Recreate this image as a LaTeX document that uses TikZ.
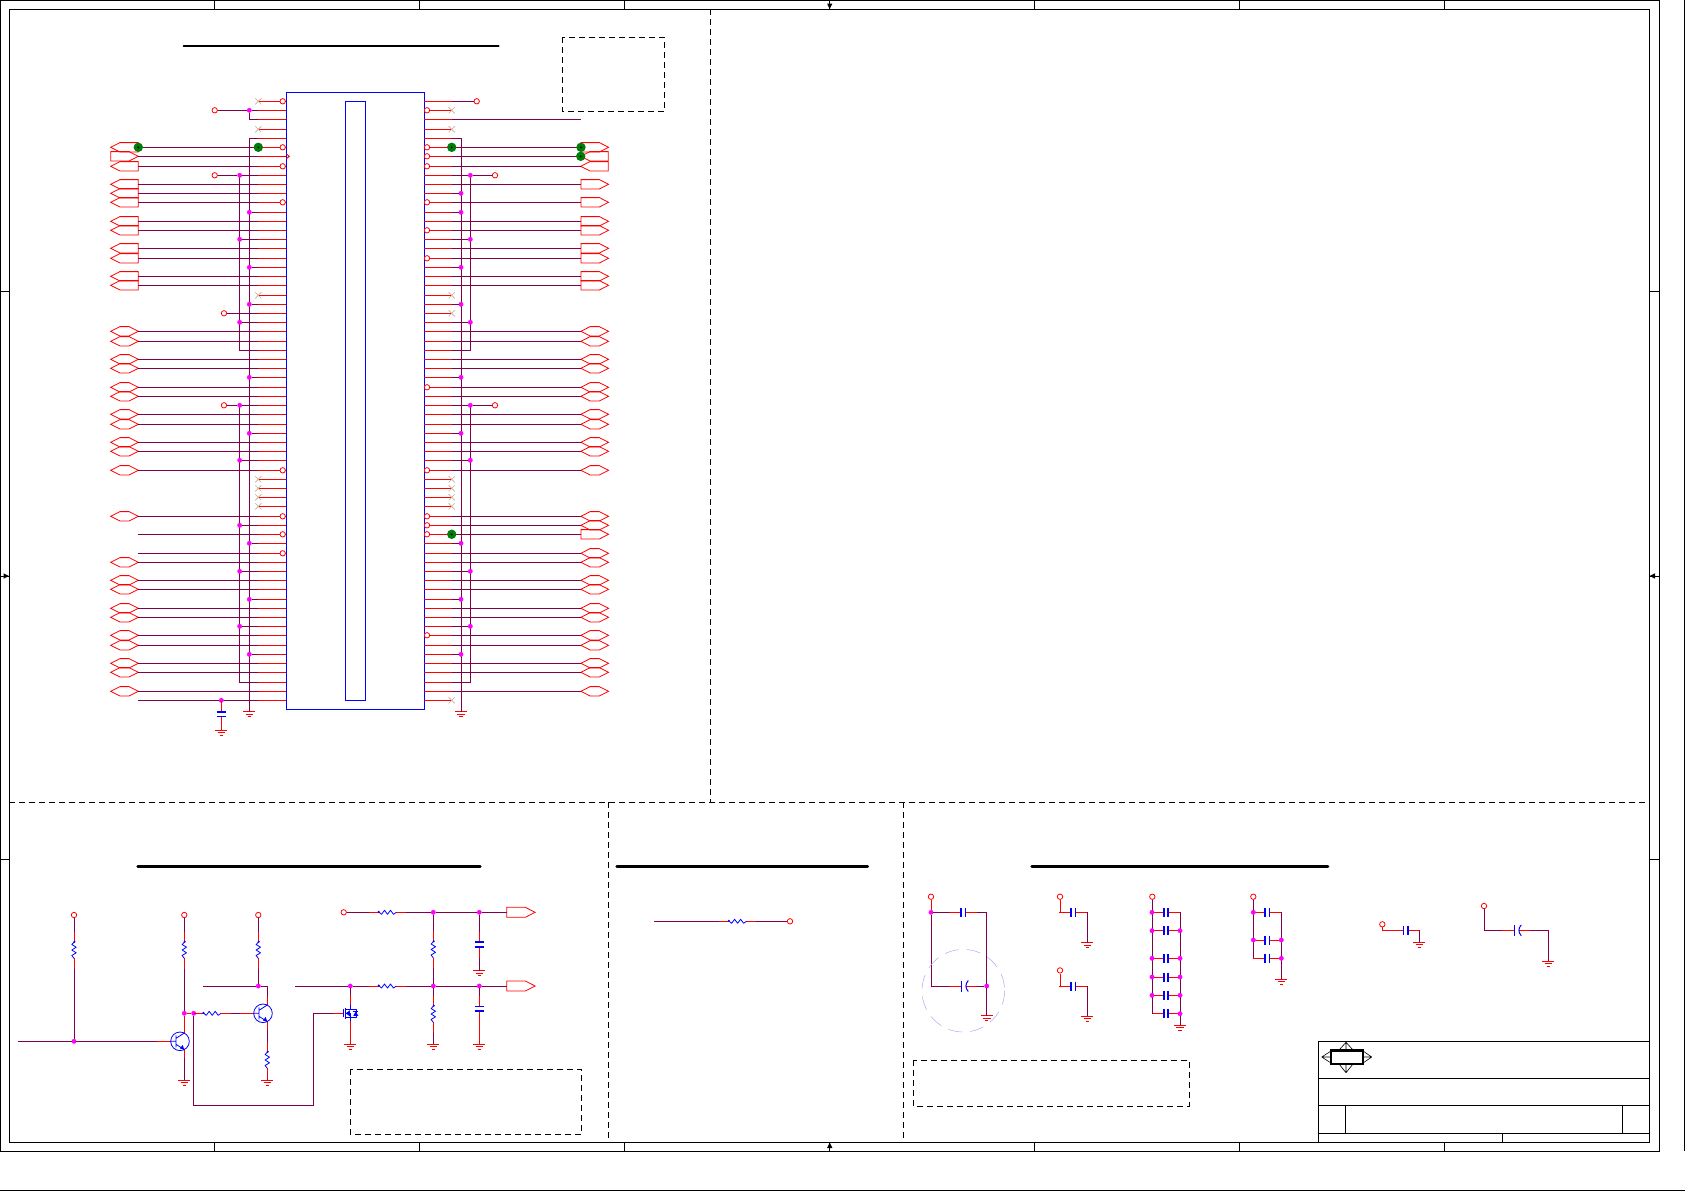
\documentclass[tikz,border=0pt]{standalone}
\usepackage{amsmath}
\usetikzlibrary{shapes,arrows}
\definecolor{netcol}{RGB}{128,0,75}
\definecolor{jncol}{RGB}{255,0,255}
\definecolor{tpgreen}{RGB}{0,125,10}
\definecolor{nccol}{RGB}{200,170,145}
\tikzset{
  frm/.style={black,line width=0.9pt},
  dashbox/.style={black,line width=0.8pt,dash pattern=on 6pt off 4pt},
  titlebar/.style={black,line width=2.6pt,line cap=round},
  wire/.style={netcol,line width=0.9pt},
  pinred/.style={red,line width=0.9pt},
  partblue/.style={blue,line width=0.8pt,line join=round},
  term/.style={circle,draw=red,fill=white,line width=0.8pt,inner sep=0pt,minimum size=5.4pt},
  jn/.style={circle,fill=jncol,draw=jncol,line width=0.3pt,inner sep=0pt,minimum size=4.4pt},
  tp/.style={circle,fill=tpgreen,inner sep=0pt,minimum size=9.4pt,
    path picture={\fill[black] (path picture bounding box.center) circle (1pt);}},
  ncx/.style={cross out,draw=nccol,line width=0.6pt,inner sep=0pt,minimum size=5.5pt},
  conn/.style={signal,draw=red,line width=0.8pt,inner sep=0pt,outer sep=0pt,
    minimum width=27.6pt,minimum height=9.4pt,signal pointer angle=54},
  connin/.style={conn,signal to=west,anchor=east},
  connout/.style={conn,signal to=east,anchor=west},
  connhex/.style={conn,signal to=east and west},
  gnd/.pic={
    \coordinate (-t) at (0,0);
    \draw[pinred] (-6,0) -- (6,0) (-3.8,2.5) -- (3.8,2.5) (-1.6,5) -- (1.6,5);
  },
  resv/.pic={
    \coordinate (-a) at (0,-18.5);
    \coordinate (-b) at (0,18.5);
    \draw[pinred] (-a) -- (0,-8.3) (0,8.3) -- (-b);
    \fill[blue] (0.5,-8.3) circle (1.1pt);
    \draw[partblue] (0.5,-8.3) -- (-2.2,-5.5) -- (2.2,-2.8) -- (-2.2,0) -- (2.2,2.8) -- (-2.2,5.5) -- (0,8.3);
  },
  resh/.pic={
    \coordinate (-a) at (-18.5,0);
    \coordinate (-b) at (18.5,0);
    \draw[pinred] (-a) -- (-8.8,0) (8.8,0) -- (-b);
    \fill[blue] (-8.8,-0.5) circle (1.1pt);
    \draw[partblue] (-8.8,-0.5) -- (-6,2) -- (-3,-2) -- (0,2) -- (3,-2) -- (6,2) -- (8.8,0);
  },
  capv/.pic={
    \coordinate (-a) at (0,-13);
    \coordinate (-b) at (0,13);
    \draw[pinred] (-a) -- (0,-2.2) (0,2.2) -- (-b);
    \draw[blue,line width=1.7pt] (-4.5,-2.2) -- (4.5,-2.2) (-4.5,2.2) -- (4.5,2.2);
  },
  caph/.pic={
    \coordinate (-a) at (-14,0);
    \coordinate (-b) at (14,0);
    \draw[pinred] (-a) -- (-2.2,0) (2.2,0) -- (-b);
    \draw[blue,line width=1.7pt] (-2.2,-4.5) -- (-2.2,4.5) (2.2,-4.5) -- (2.2,4.5);
  },
  polcap/.pic={
    \coordinate (-a) at (-14,0);
    \coordinate (-b) at (14,0);
    \draw[pinred] (-a) -- (-2.2,0) (3,0) -- (-b);
    \draw[partblue,line width=1pt] (-2.2,-5.5) -- (-2.2,5.5);
    \draw[partblue,line width=1pt] (5,-5.5) .. controls (1.8,-2) and (1.8,2) .. (5,5.5);
  },
  npn/.pic={
    \coordinate (-b) at (-23.3,0);
    \coordinate (-c) at (4.3,-16.6);
    \coordinate (-e) at (4.3,16.6);
    \draw[pinred] (-b) -- (-9.3,0) (-c) -- (4.3,-8.3) (4.3,8.3) -- (-e);
    \draw[partblue] (0,0) circle (9.3);
    \draw[partblue] (-4,-6) -- (-4,6) (-9.3,0) -- (-4,0) (-4,-3) -- (4.3,-8.3) (-4,3) -- (4.3,8.3);
    \fill[blue] (4.3,8.3) -- (0,7.2) -- (2.6,3.6) -- cycle;
  },
  nfet/.pic={
    \coordinate (-g) at (-17,0);
    \coordinate (-d) at (0,-18);
    \coordinate (-s) at (0,18);
    \draw[pinred] (-g) -- (-7.5,0) (-d) -- (0,-8) (0,8) -- (-s);
    \draw[partblue,line width=0.6pt] (-7,-4) -- (-7,4) (-5,-5.5) -- (-5,5.5);
    \draw[partblue,line width=0.6pt] (0,-8) -- (0,-4) -- (-5,-4) (0,8) -- (0,4) -- (-5,4) (-5,0) -- (0,0) -- (0,4);
    \draw[partblue,line width=0.6pt] (0,-4) -- (5.5,-4) -- (5.5,4) -- (0,4);
    \fill[blue] (-4.5,0) -- (-0.5,-3) -- (-0.5,3) -- cycle;
    \fill[blue] (3,2.5) -- (8,2.5) -- (5.5,-2) -- cycle;
    \draw[partblue,line width=0.6pt] (3,-2.2) -- (8,-2.2);
  }
}
\begin{document}
\begin{tikzpicture}[x=1pt,y=-1pt]
\useasboundingbox (0,0) rectangle (1685,1191);

% sheet frame
\draw[frm] (0.5,0.5) rectangle (1659.3,1151.3);
\draw[frm] (9.3,9.3) rectangle (1649.3,1142.3);
\draw[frm] (1684.3,0) -- (1684.3,1151.3);
\draw[frm] (0,1190.3) -- (1685,1190.3);
\foreach \x in {214.3,419.3,624.3,829.7,1034.6,1239.3,1444.3}
{
\draw[frm] (\x,0.5) -- (\x,9.3);
\draw[frm] (\x,1142.3) -- (\x,1151.3);
}
\foreach \y in {291,576,859.3}
{
\draw[frm] (0.5,\y) -- (9.3,\y);
\draw[frm] (1649.3,\y) -- (1659.3,\y);
}
\fill[black] (829.7,9) -- (827,3.5) -- (832.4,3.5) -- cycle;
\fill[black] (829.7,1142.6) -- (827,1148) -- (832.4,1148) -- cycle;
\fill[black] (9,576) -- (3.5,573.3) -- (3.5,578.7) -- cycle;
\fill[black] (1649.6,576) -- (1655,573.3) -- (1655,578.7) -- cycle;

% title block
\draw[frm] (1318.3,1142.3) -- (1318.3,1041.3) -- (1649.3,1041.3);
\draw[frm] (1318.3,1078.3) -- (1649.3,1078.3);
\draw[frm] (1318.3,1105.3) -- (1649.3,1105.3);
\draw[frm] (1318.3,1133.3) -- (1649.3,1133.3);
\draw[frm] (1345.7,1105.3) -- (1345.7,1133.3);
\draw[frm] (1622.3,1105.3) -- (1622.3,1133.3);
\draw[frm] (1502.3,1133.3) -- (1502.3,1142.3);
\draw[black,line width=0.6pt] (1321.7,1057) -- (1331,1051) (1321.7,1057) -- (1331,1063) (1321.7,1057) -- (1331,1057);
\draw[black,line width=0.6pt] (1371.7,1057) -- (1363,1051) (1371.7,1057) -- (1363,1063) (1371.7,1057) -- (1363,1057);
\draw[black,line width=0.6pt] (1346,1042.3) -- (1339,1050) (1346,1042.3) -- (1353,1050) (1346,1042.3) -- (1346,1050);
\draw[black,line width=0.6pt] (1346,1072.7) -- (1339,1064) (1346,1072.7) -- (1353,1064) (1346,1072.7) -- (1346,1064);
\draw[black,fill=white,line width=2.6pt] (1331,1050.5) rectangle (1363,1064);

% section dividers
\draw[dashbox] (710.3,9.3) -- (710.3,802.3);
\draw[dashbox] (9.3,802.3) -- (1649.3,802.3);
\draw[dashbox] (608.3,802.3) -- (608.3,1142.3);
\draw[dashbox] (903.3,802.3) -- (903.3,1142.3);
\draw[dashbox] (562.3,37.3) rectangle (664.7,111.3);
\draw[dashbox] (350.3,1069.3) rectangle (581.7,1134.3);
\draw[dashbox] (913.3,1060.3) rectangle (1189.3,1106.3);
\draw[titlebar,line width=2pt] (183.7,45.7) -- (498.7,45.7);
\draw[titlebar] (137.7,866.3) -- (480.3,866.3);
\draw[titlebar] (616.7,866.3) -- (867.7,866.3);
\draw[titlebar] (1031.7,866.3) -- (1328,866.3);

% main IC
\draw[blue,line width=1pt] (286.3,92.3) rectangle (424.3,709.3);
\draw[blue,line width=1pt] (345.3,101.3) rectangle (365.3,700.3);
\coordinate (colL) at (124.5,0);
\coordinate (colLa) at (110.7,0);
\coordinate (colLb) at (138.3,0);
\coordinate (colR) at (594.7,0);
\coordinate (colRa) at (581,0);
\coordinate (colRb) at (608.3,0);
\coordinate (busL1) at (249.3,0);
\coordinate (busL2) at (239.7,0);
\coordinate (busR1) at (461,0);
\coordinate (busR2) at (470.3,0);
\foreach \i/\y in {1/101.3,2/110.3,3/119.3,4/129.3,5/138.3,6/147.3,7/156.3,8/166.3,9/175.3,10/184.3,
11/193.3,12/202.3,13/212.3,14/221.3,15/230.3,16/239.3,17/248.3,18/258.3,19/267.3,20/276.3,
21/285.3,22/295.3,23/304.3,24/313.3,25/322.3,26/331.3,27/341.3,28/350.3,29/359.3,30/368.3,
31/377.3,32/387.3,33/396.3,34/405.3,35/414.3,36/424.3,37/433.3,38/442.3,39/451.3,40/460.3,
41/470.3,42/479.3,43/488.3,44/497.3,45/506.3,46/516.3,47/525.3,48/534.3,49/543.3,50/553.3,
51/562.3,52/571.3,53/580.3,54/589.3,55/599.3,56/608.3,57/617.3,58/626.3,59/635.3,60/645.3,
61/654.3,62/663.3,63/672.3,64/682.3,65/691.3,66/700.3}
{
\coordinate (L\i) at (286.3,\y);
\coordinate (LS\i) at (258.3,\y);
\coordinate (R\i) at (424.3,\y);
\coordinate (RS\i) at (451.7,\y);
\draw[pinred] (L\i) -- (LS\i);
\draw[pinred] (R\i) -- (RS\i);
}

% power rails
\pic (GL) at (249.3,711.7) {gnd};
\pic (GR) at (461,711.7) {gnd};
\draw[wire] (LS5) -| (GL-t);
\draw[wire] (RS5) -| (GR-t);
\draw[wire] (busL2 |- L9) |- (LS28);
\draw[wire] (busR2 |- R9) |- (RS28);
\draw[wire] (busL2 |- L34) |- (LS64);
\draw[wire] (busR2 |- R34) |- (RS64);
\foreach \i in {2,13,19,23,31,37,49,55,61}
{
\node[jn] (JLa\i) at (busL1 |- L\i) {};
\draw[wire] (JLa\i) -- (LS\i);
}
\foreach \i in {9,16,25,34,40,47,52,58}
{
\node[jn] (JLb\i) at (busL2 |- L\i) {};
\draw[wire] (JLb\i) -- (LS\i);
}
\foreach \i in {11,13,19,23,31,37,49,55,61}
{
\node[jn] (JRa\i) at (busR1 |- R\i) {};
\draw[wire] (JRa\i) -- (RS\i);
}
\foreach \i in {9,16,25,34,40,52,58}
{
\node[jn] (JRb\i) at (busR2 |- R\i) {};
\draw[wire] (JRb\i) -- (RS\i);
}
\draw[wire] (JLa2) |- (LS3);

% connectors, left
\foreach \i in {6,8,10,11,12,14,15,17,18,20,21}
\node[connin] (CL\i) at (colLb |- L\i) {};
\node[connout] (CL7) at (colLa |- L7) {};
\foreach \i in {26,27,29,30,32,33,35,36,38,39,41,46,51,53,54,56,57,59,60,62,63,65}
\node[connhex] (CL\i) at (colL |- L\i) {};
\foreach \i in {6,7,8,10,11,12,14,15,17,18,20,21,26,27,29,30,32,33,35,36,38,39,41,46,51,53,54,56,57,59,60,62,63,65}
\draw[wire] (CL\i.east) -- (LS\i);

% connectors, right
\foreach \i in {6,10,12,14,15,17,18,20,21,48}
\node[connout] (CR\i) at (colRa |- R\i) {};
\foreach \i in {7,8}
\node[connin] (CR\i) at (colRb |- R\i) {};
\foreach \i in {26,27,29,30,32,33,35,36,38,39,41,46,47,50,51,53,54,56,57,59,60,62,63,65}
\node[connhex] (CR\i) at (colR |- R\i) {};
\foreach \i in {6,7,8,10,12,14,15,17,18,20,21,48,26,27,29,30,32,33,35,36,38,39,41,46,47,50,51,53,54,56,57,59,60,62,63,65}
\draw[wire] (RS\i) -- (CR\i.west);

% free net ends
\foreach \i in {48,50,66}
{
\coordinate (WL\i) at (138.3,0 |- L\i);
\draw[wire] (WL\i) -- (LS\i);
}
\coordinate (WR3) at (581.3,0 |- R3);
\draw[wire] (RS3) -- (WR3);

% terminals
\node[term] (TL2) at (214.7,0 |- L2) {};
\node[term] (TL9) at (214.7,0 |- L9) {};
\node[term] (TL24) at (224,0 |- L24) {};
\node[term] (TL34) at (224,0 |- L34) {};
\node[term] (TR1) at (476.7,0 |- R1) {};
\node[term] (TR9) at (495,0 |- R9) {};
\node[term] (TR34) at (495,0 |- R34) {};
\draw[wire] (TL2) -- (JLa2);
\draw[wire] (TL9) -- (JLb9);
\draw[wire] (TL24) -- (LS24);
\draw[wire] (TL34) -- (JLb34);
\draw[wire] (RS1) -- (TR1);
\draw[wire] (JRb9) -- (TR9);
\draw[wire] (JRb34) -- (TR34);

% no connects and pin bubbles
\foreach \i in {1,4,22,42,43,44,45}
\node[ncx] (XL\i) at (LS\i) {};
\foreach \i in {2,4,22,24,42,43,44,45,66}
\node[ncx] (XR\i) at (RS\i) {};
\foreach \i in {1,6,8,12,41,46,48,50}
\node[term] (BL\i) at (282.7,0 |- L\i) {};
\foreach \i in {2,6,7,8,12,15,18,32,41,46,47,48,59}
\node[term] (BR\i) at (427,0 |- R\i) {};
\draw[pinred] (286.3,153.8) -- (289.3,156.3) -- (286.3,158.8);

% test points
\node[tp] (TP1) at (CL6.east) {};
\node[tp] (TP2) at (LS6) {};
\node[tp] (TP3) at (RS6) {};
\node[tp] (TP4) at (CR6.west) {};
\node[tp] (TP5) at (580.7,0 |- R7) {};
\node[tp] (TP6) at (RS48) {};

% decoupling on last pin
\node[jn] (JC1) at (221.3,700.3) {};
\pic (CC0) at (221.3,714.2) {capv};
\pic (GC0) at (221.3,730) {gnd};
\draw[pinred] (JC1) -- (CC0-a);
\draw[pinred] (CC0-b) -- (GC0-t);

% driver stage
\node[term] (T1) at (74,915) {};
\node[term] (T2) at (184.3,915) {};
\node[term] (T3) at (258.3,915) {};
\pic (R1) at (74,950) {resv};
\pic (R2) at (184.3,950) {resv};
\pic (R3) at (258.3,950) {resv};
\node[jn] (J1) at (74,1041.3) {};
\pic (Q1) at (180,1041.3) {npn};
\node[jn] (J2) at (184.3,1013.3) {};
\node[jn] (J3) at (193.7,1013.3) {};
\pic (R4) at (212.2,1013.3) {resh};
\pic (Q2) at (263,1013.3) {npn};
\node[jn] (J4) at (258.3,986) {};
\pic (R5) at (267.3,1060) {resv};
\pic (G1) at (184.3,1080) {gnd};
\pic (G2) at (267.3,1080) {gnd};
\coordinate (W1) at (18,1041.3);
\coordinate (W2) at (202.7,986);
\coordinate (W4) at (313.3,1105.3);
\coordinate (W5) at (313.3,1013.3);
\coordinate (W6) at (295,986);
\draw[wire] (T1) -- (R1-a);
\draw[wire] (R1-b) -- (J1);
\draw[wire] (W1) -- (J1);
\draw[wire] (J1) -- (Q1-b);
\draw[wire] (T2) -- (R2-a);
\draw[wire] (R2-b) -- (J2);
\draw[pinred] (J2) -- (Q1-c);
\draw[wire] (Q1-e) -- (G1-t);
\draw[pinred] (J2) -- (J3);
\draw[pinred] (J3) -- (R4-a);
\draw[wire] (R4-b) -- (Q2-b);
\draw[wire] (T3) -- (R3-a);
\draw[wire] (R3-b) -- (J4);
\draw[wire] (W2) -- (J4);
\draw[wire] (J4) -| (Q2-c);
\draw[wire] (Q2-e) -- (R5-a);
\draw[wire] (R5-b) -- (G2-t);
\draw[wire] (J3) |- (W4) -- (W5);
\pic (M1) at (350.3,1013.3) {nfet};
\draw[wire] (W5) -- (M1-g);
\node[jn] (J5) at (350.3,986) {};
\pic (G3) at (350.3,1044) {gnd};
\pic (R6) at (387.5,986) {resh};
\pic (R7) at (387.5,912.3) {resh};
\node[term] (T4) at (343.7,912.3) {};
\node[jn] (J6) at (433.3,986) {};
\node[jn] (J7) at (479.3,986) {};
\node[jn] (J8) at (433.3,912.3) {};
\node[jn] (J9) at (479.3,912.3) {};
\node[connout,minimum width=28.4pt,minimum height=10pt] (CN1) at (506.7,912.3) {};
\node[connout,minimum width=28.4pt,minimum height=10pt] (CN2) at (506.7,986) {};
\pic (R8) at (433.3,949.5) {resv};
\pic (R9) at (433.3,1014) {resv};
\pic (C1) at (479.3,944.5) {capv};
\pic (C2) at (479.3,1008.8) {capv};
\pic (G4) at (433.3,1044) {gnd};
\pic (G5) at (479.3,970.7) {gnd};
\pic (G6) at (479.3,1044) {gnd};
\draw[wire] (W6) -- (J5);
\draw[wire] (J5) -- (M1-d);
\draw[pinred] (M1-s) -- (G3-t);
\draw[wire] (J5) -- (R6-a);
\draw[wire] (R6-b) -- (J6);
\draw[wire] (J6) -- (J7);
\draw[wire] (J7) -- (CN2.west);
\draw[wire] (T4) -- (R7-a);
\draw[wire] (R7-b) -- (J8);
\draw[wire] (J8) -- (J9);
\draw[wire] (J9) -- (CN1.west);
\draw[wire] (J8) -- (R8-a);
\draw[wire] (R8-b) -- (J6);
\draw[wire] (J6) -- (R9-a);
\draw[wire] (R9-b) -- (G4-t);
\draw[wire] (J9) -- (C1-a);
\draw[wire] (C1-b) -- (G5-t);
\draw[wire] (J7) -- (C2-a);
\draw[pinred] (C2-b) -- (G6-t);

% series resistor section
\coordinate (W7) at (654,921.3);
\pic (R10) at (737.6,921.3) {resh};
\node[term] (T5) at (790,921.3) {};
\draw[wire] (W7) -- (R10-a);
\draw[wire] (R10-b) -- (T5);

% bulk caps
\node[term] (TA) at (931,896.7) {};
\node[jn] (JA) at (931,912.3) {};
\pic (CA1) at (963.3,912.3) {caph};
\pic (CA2) at (963.3,986) {polcap};
\node[jn] (JB) at (986.7,986) {};
\pic (GA) at (986.7,1015.7) {gnd};
\draw[pinred] (TA) -- (JA);
\draw[wire] (JA) -- (CA1-a);
\draw[wire] (CA1-b) -| (JB);
\draw[wire] (JB) -- (GA-t);
\draw[wire] (JA) |- (CA2-a);
\draw[wire] (CA2-b) -- (JB);
\draw[color={rgb,255:red,165;green,170;blue,245},line width=0.5pt,dash pattern=on 14pt off 8pt] (963.3,990.7) circle (41.3);

\foreach \n/\x/\y/\yg in {B/1073.3/912.3/942.7,D/1073.3/986/1016}
{
\pic (G\n) at (1087.3,\yg) {gnd};
\pic (C\n) at (\x,\y) {caph};
\node[term] (T\n) at (1060,\y-15.6) {};
\draw[pinred] (T\n) |- (C\n-a);
\draw[wire] (C\n-b) -| (G\n-t);
}

\node[term] (TC) at (1152.3,896.7) {};
\pic (GH) at (1180,1025) {gnd};
\foreach \n/\y in {1/912.3,2/930.7,3/958.3,4/977,5/995.3,6/1013.7}
\pic (CH\n) at (1166,\y) {caph};
\draw[wire] (TC) |- (CH6-a);
\draw[wire] (CH1-b) -| (GH-t);
\foreach \n in {1,2,3,4,5}
\node[jn] (JHa\n) at (CH\n-a) {};
\foreach \n in {2,3,4,5,6}
\node[jn] (JHb\n) at (CH\n-b) {};

\node[term] (TE) at (1253.3,896.7) {};
\pic (GE) at (1281.3,979) {gnd};
\foreach \n/\y in {1/912.3,2/940,3/958.3}
\pic (CE\n) at (1267.3,\y) {caph};
\draw[wire] (TE) |- (CE3-a);
\draw[wire] (CE1-b) -| (GE-t);
\foreach \n in {1,2}
\node[jn] (JEa\n) at (CE\n-a) {};
\foreach \n in {2,3}
\node[jn] (JEb\n) at (CE\n-b) {};

\node[term] (TK) at (1382.3,924.3) {};
\pic (CK) at (1405.7,930.3) {caph};
\pic (GK) at (1419.3,942.3) {gnd};
\draw[pinred] (TK) |- (CK-a);
\draw[wire] (CK-b) -| (GK-t);

\node[term] (TF) at (1484,906) {};
\pic (CF) at (1516.3,930.3) {polcap};
\pic (GF) at (1548.3,961) {gnd};
\draw[wire] (TF) |- (CF-a);
\draw[wire] (CF-b) -| (GF-t);

\end{tikzpicture}
\end{document}
